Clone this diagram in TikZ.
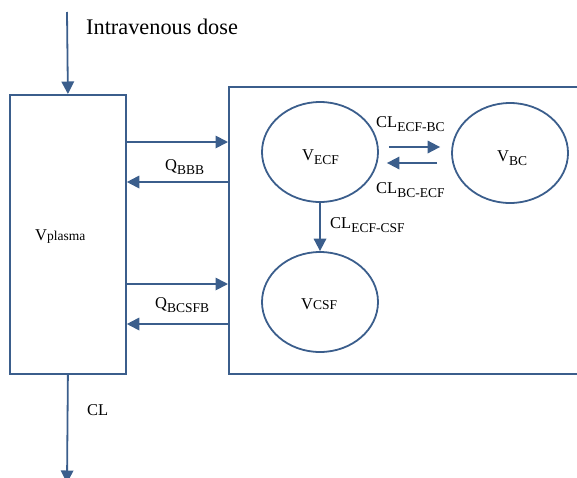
\documentclass[tikz,border=0pt]{standalone}
\usepackage{fontspec}
\setmainfont{Liberation Serif}
\usetikzlibrary{arrows.meta,shapes.geometric,calc}
\definecolor{pkblue}{RGB}{59,94,140}
% 下标（降低）与同行小字
\newcommand{\lsub}[1]{\raisebox{-4pt}{\fontsize{13.5}{14}\selectfont #1}}
\newcommand{\nsub}[1]{{\fontsize{13.5}{14}\selectfont #1}}
\tikzset{
  arr/.style={draw=pkblue, line width=1.8pt, -{Triangle[length=12.5pt,width=12.5pt]}},
  box/.style={draw=pkblue, line width=1.8pt, inner sep=0pt},
  comp/.style={ellipse, draw=pkblue, line width=1.8pt, minimum width=116pt, minimum height=100pt, inner sep=0pt},
  lbl/.style={anchor=base west, inner sep=0pt, font=\fontsize{16.5}{18}\selectfont},
}
\begin{document}
\begin{tikzpicture}[x=1pt,y=-1pt]
    \useasboundingbox (0,0) rectangle (577,477);
    % 血浆室
    \node[box, anchor=north west, minimum width=116pt, minimum height=279pt] (plasma) at (9,94) {};
    \node[lbl] (vpl) at (35,240) {V\nsub{plasma}};
    % 脑（右侧被截断）
    \node[box, anchor=north west, minimum width=380pt, minimum height=287pt] (brain) at (228,86) {};
    % 脑内各室
    \node[comp] (ecf) at (320,152) {};
    \node[comp] (bc) at (510,153) {};
    \node[comp] (csf) at (320,302) {};
    \node[lbl] (vecf) at (302,160) {V\lsub{ECF}};
    \node[lbl] (vbc) at (497,161) {V\lsub{BC}};
    \node[lbl] (vcsf) at (301,309) {V\nsub{CSF}};
    % 给药
    \coordinate (dose) at (67,12);
    \draw[arr] (dose) -- (plasma.north);
    \node[lbl, font=\fontsize{22.3}{24}\selectfont] (dosetxt) at (86,34) {Intravenous dose};
    % 清除
    \coordinate (elim) at (67,483);
    \draw[arr] (plasma.south) -- (elim);
    \node[lbl] (cl) at (87,415) {CL};
    % 血脑屏障
    \coordinate (yb1) at (0,142);
    \coordinate (yb2) at (0,182);
    \draw[arr] (plasma.east |- yb1) -- (brain.west |- yb1);
    \draw[arr] (brain.west |- yb2) -- (plasma.east |- yb2);
    \node[lbl] (qbbb) at (165,170) {Q\lsub{BBB}};
    % 血-脑脊液屏障
    \coordinate (yc1) at (0,284);
    \coordinate (yc2) at (0,324);
    \draw[arr] (plasma.east |- yc1) -- (brain.west |- yc1);
    \draw[arr] (brain.west |- yc2) -- (plasma.east |- yc2);
    \node[lbl] (qbcsfb) at (155,308) {Q\lsub{BCSFB}};
    % 室间清除
    \draw[arr] ($(ecf.east)+(10,-5)$) -- ($(bc.west)+(-11,-6)$);
    \draw[arr] ($(bc.west)+(-14,10)$) -- ($(ecf.east)+(8,11)$);
    \node[lbl] (clfw) at (376,127) {CL\lsub{ECF-BC}};
    \node[lbl] (clbw) at (376,193) {CL\lsub{BC-ECF}};
    \draw[arr] (ecf) -- (csf);
    \node[lbl] (clcsf) at (330,228) {CL\lsub{ECF-CSF}};
\end{tikzpicture}
\end{document}
